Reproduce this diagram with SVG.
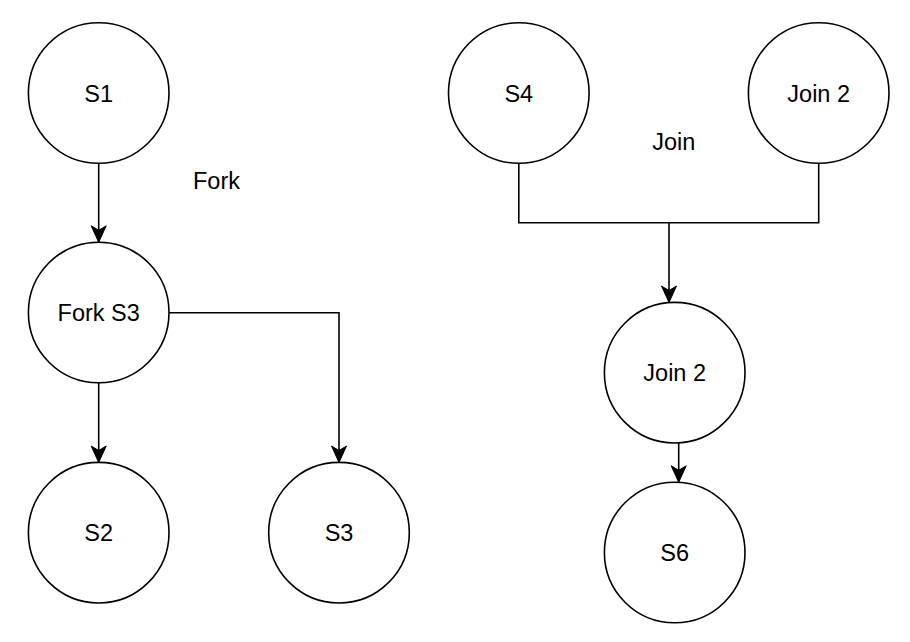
<svg xmlns="http://www.w3.org/2000/svg" width="910" height="642" viewBox="0 0 910 642">
<style>
.n{fill:#fff;stroke:#000;stroke-width:1.6}
.t{font-family:"Liberation Sans",Arial,sans-serif;font-size:23.5px;fill:#000;text-anchor:middle}
.e{fill:none;stroke:#000;stroke-width:1.6}
.ar{marker-end:url(#a)}
</style>
<defs>
<marker id="a" markerUnits="userSpaceOnUse" markerWidth="20" markerHeight="20" refX="0" refY="0" viewBox="-18 -10 20 20" orient="auto" overflow="visible">
<path d="M0,0 L-16.5,-7.5 L-12,0 L-16.5,7.5 Z" fill="#000" stroke="#000" stroke-width="1"/>
</marker>
</defs>
<rect width="910" height="642" fill="#fff"/>
<g id="connectors">
<path class="e ar" d="M98.7,163.5 V242.3"/>
<path class="e ar" d="M98.7,382.8 V462.5"/>
<path class="e ar" d="M169,312.7 H339 V462.5"/>
<path class="e" d="M518.8,163.5 V222.7 H818.7 V163.5"/>
<path class="e ar" d="M669,222.7 V302.5"/>
<path class="e ar" d="M678.7,442.8 V482.3"/>
</g>
<g id="S1"><circle class="n" cx="98.7" cy="93" r="70.3"/><text class="t" x="98.7" y="101.5">S1</text></g>
<g id="ForkS3"><circle class="n" cx="98.7" cy="312.5" r="70.3"/><text class="t" x="98.7" y="321">Fork S3</text></g>
<g id="S2"><circle class="n" cx="98.7" cy="532.7" r="70.3"/><text class="t" x="98.7" y="541.2">S2</text></g>
<g id="S3"><circle class="n" cx="339" cy="532.7" r="70.3"/><text class="t" x="339" y="541.2">S3</text></g>
<g id="S4"><circle class="n" cx="518.8" cy="93" r="70.3"/><text class="t" x="518.8" y="101.5">S4</text></g>
<g id="Join2a"><circle class="n" cx="818.7" cy="93" r="70.3"/><text class="t" x="818.7" y="101.5">Join 2</text></g>
<g id="Join2b"><circle class="n" cx="674.7" cy="372.7" r="70.3"/><text class="t" x="674.7" y="381.2">Join 2</text></g>
<g id="S6"><circle class="n" cx="674.7" cy="552.5" r="70.3"/><text class="t" x="674.7" y="561">S6</text></g>
<g id="ForkLabel"><text class="t" x="216.5" y="189">Fork</text></g>
<g id="JoinLabel"><text class="t" x="673.7" y="150">Join</text></g>
</svg>
